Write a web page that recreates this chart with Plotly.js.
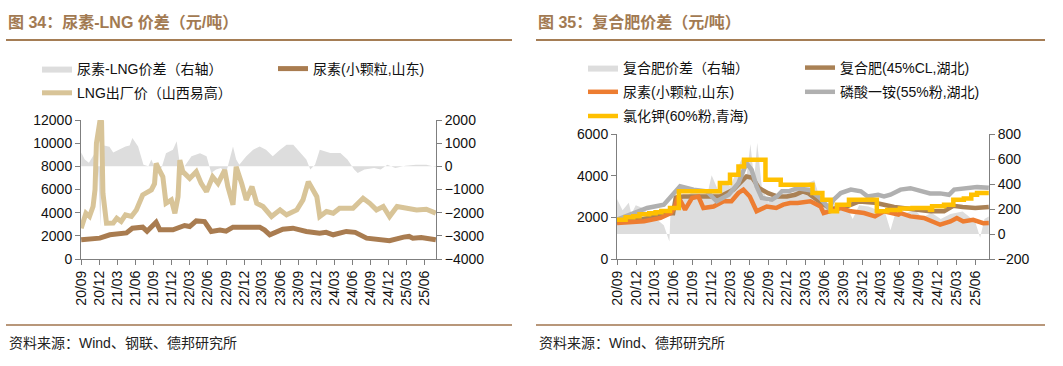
<!DOCTYPE html>
<html><head><meta charset="utf-8">
<script src="https://cdn.plot.ly/plotly-3.0.1.min.js"></script>
<style>
html,body{margin:0;padding:0;background:#fff;}
#c1{position:absolute;left:0;top:0;width:530px;height:366px;}
#c2{position:absolute;left:530px;top:0;width:533px;height:366px;}
</style></head>
<body>
<div id="c1"></div><div id="c2"></div>
<script>
// ---------- Chart 34 data ----------
const ureaDates34 = ['2020-08-29','2020-10-15','2020-12-01','2021-01-21','2021-03-10','2021-04-15','2021-05-15','2021-07-06','2021-07-28','2021-09-12','2021-10-01','2021-12-06','2022-02-03','2022-03-01','2022-04-03','2022-05-15','2022-06-18','2022-08-01','2022-09-01','2022-10-06','2022-12-12','2023-02-18','2023-03-15','2023-04-10','2023-06-15','2023-08-05','2023-10-12','2023-12-18','2024-01-20','2024-02-25','2024-05-01','2024-06-15','2024-08-12','2024-10-18','2024-12-06','2025-02-15','2025-03-15','2025-04-03','2025-05-15','2025-07-28'];
const ureaVals34 = [1660,1750,1800,2090,2170,2250,2660,2750,2400,3180,2520,2520,2890,2800,3290,3230,2380,2500,2400,2750,2750,2750,2500,2090,2575,2660,2380,2230,2300,2090,2380,2300,1800,1720,1575,1890,1950,1800,1850,1660];

const lngDates34 = ['2020-08-29','2020-09-22','2020-10-10','2020-10-28','2020-11-07','2020-11-14','2020-12-01','2020-12-10','2020-12-17','2021-01-04','2021-02-07','2021-02-25','2021-03-19','2021-04-10','2021-05-10','2021-06-04','2021-07-06','2021-08-19','2021-09-04','2021-09-12','2021-09-28','2021-10-16','2021-11-01','2021-11-28','2021-12-16','2022-01-01','2022-01-10','2022-01-25','2022-03-01','2022-04-03','2022-04-28','2022-05-25','2022-06-25','2022-07-22','2022-08-25','2022-09-10','2022-10-06','2022-10-22','2022-11-19','2022-12-12','2023-01-10','2023-02-03','2023-03-07','2023-04-19','2023-06-01','2023-07-04','2023-08-25','2023-09-25','2023-10-22','2023-11-10','2023-12-04','2023-12-19','2024-01-22','2024-02-25','2024-03-28','2024-06-04','2024-07-25','2024-08-28','2024-10-01','2024-11-04','2024-12-06','2025-01-13','2025-03-01','2025-04-22','2025-06-10','2025-07-28'];
const lngVals34 = [2660,3950,3670,4530,6000,9970,11830,11800,5670,3090,3100,3520,3240,3810,3670,4240,5530,5960,6500,8250,7680,7100,4810,5100,3950,5380,8540,7540,6960,7540,6530,5820,7100,6530,7680,6250,4670,7970,6530,5100,6250,4810,4530,3670,4240,3810,4240,5100,6680,6100,5380,3670,4100,3950,4380,4380,5240,4810,4240,4530,3670,4530,4380,4240,4300,3950];

const spreadDates34 = ['2020-08-29','2020-09-16','2020-10-07','2020-11-01','2020-11-13','2020-11-25','2020-12-04','2020-12-13','2020-12-22','2021-01-19','2021-02-07','2021-03-10','2021-04-10','2021-05-01','2021-05-15','2021-06-13','2021-07-10','2021-08-04','2021-08-19','2021-09-12','2021-10-10','2021-11-01','2021-12-06','2021-12-25','2022-01-10','2022-02-03','2022-03-10','2022-04-22','2022-05-25','2022-06-18','2022-07-12','2022-08-06','2022-09-01','2022-10-06','2022-10-22','2022-11-07','2022-12-12','2023-01-16','2023-02-18','2023-03-22','2023-04-25','2023-06-01','2023-07-04','2023-08-07','2023-09-10','2023-10-12','2023-11-01','2023-11-25','2023-12-19','2024-02-10','2024-04-01','2024-05-07','2024-06-10','2024-06-28','2024-08-01','2024-09-19','2024-10-22','2024-11-25','2025-01-04','2025-02-25','2025-04-19','2025-06-10','2025-07-28'];
const spreadVals34 = [600,300,150,500,1000,-500,-2600,200,900,850,600,720,860,900,1220,860,70,0,290,-200,-50,570,720,1080,100,0,430,570,430,-290,-140,-70,-290,860,300,70,430,720,860,720,430,720,930,930,575,290,-140,70,720,575,575,290,-140,-290,-140,-70,-140,70,-70,30,70,70,-30];

// ---------- Chart 35 data ----------
const compDates35 = ['2020-08-29','2021-01-07','2021-03-04','2021-04-13','2021-05-28','2021-06-10','2021-07-16','2021-11-25','2022-01-10','2022-03-16','2022-05-19','2022-06-16','2022-07-19','2022-09-01','2022-10-16','2022-12-01','2023-01-10','2023-02-15','2023-03-16','2023-05-16','2023-07-04','2023-09-07','2023-11-16','2024-02-01','2024-04-01','2024-05-04','2024-07-25','2024-10-25','2025-01-01','2025-02-15','2025-04-01','2025-06-01','2025-08-06'];
const compVals35 = [1800,1920,2050,2200,2200,2950,3000,3000,3000,3330,3960,3900,3400,3160,3000,3000,3080,3245,3150,2690,2400,2480,2760,2700,2550,2500,2400,2290,2290,2550,2500,2450,2500];

const ureaDates35 = ['2020-08-29','2021-01-07','2021-03-28','2021-05-16','2021-06-07','2021-06-22','2021-07-25','2021-08-28','2021-09-28','2021-10-22','2021-12-10','2022-01-28','2022-03-07','2022-04-10','2022-05-04','2022-06-04','2022-07-07','2022-08-25','2022-10-10','2022-11-13','2022-12-16','2023-01-22','2023-03-25','2023-05-13','2023-05-28','2023-07-01','2023-08-19','2023-10-07','2023-12-10','2024-02-01','2024-03-16','2024-05-25','2024-06-04','2024-07-22','2024-09-25','2024-12-13','2025-02-01','2025-03-04','2025-04-04','2025-05-22','2025-07-10','2025-08-06'];
const ureaVals35 = [1730,1810,1970,2200,2520,3000,2370,2930,3000,2450,2520,2770,2770,3170,3330,3000,2290,2520,2450,2610,2690,2690,2770,2526,2207,2290,2446,2287,2207,2045,2287,2130,2200,2045,1966,1646,1800,1966,1800,1880,1720,1726];

const mapDates35 = ['2020-08-29','2021-01-22','2021-04-13','2021-05-22','2021-07-01','2021-09-04','2021-11-07','2021-12-25','2022-02-22','2022-04-10','2022-05-19','2022-06-13','2022-07-07','2022-08-01','2022-09-19','2022-10-13','2022-11-07','2022-12-10','2023-01-22','2023-03-25','2023-05-13','2023-06-22','2023-07-16','2023-08-19','2023-10-07','2023-11-25','2023-12-28','2024-02-16','2024-03-16','2024-04-16','2024-06-04','2024-07-22','2024-09-10','2024-10-25','2024-12-13','2025-01-25','2025-02-19','2025-05-07','2025-06-10','2025-08-06'];
const mapVals35 = [1890,2450,2610,3010,3490,3330,3250,2770,3090,3650,4600,4280,3480,2930,2850,3000,3250,3250,3400,3300,2900,2450,2850,3165,3330,3250,3000,3080,3000,3086,3330,3400,3250,3150,3150,3084,3330,3400,3450,3420];

const kclDates35 = ['2020-08-29','2020-10-10','2020-11-16','2020-12-16','2021-02-01','2021-03-04','2021-04-01','2021-05-13','2021-06-25','2022-01-10','2022-02-28','2022-04-10','2022-05-07','2022-08-19','2022-11-01','2023-04-04','2023-05-22','2023-07-01','2023-08-01','2023-09-28','2024-02-10','2024-04-01','2024-06-01','2024-08-01','2024-10-25','2024-11-04','2025-01-01','2025-02-15','2025-04-07','2025-05-13','2025-06-10','2025-08-06'];
const kclVals35 = [1890,2010,2050,2150,2200,2250,2300,2450,3250,3650,4040,4440,4760,3800,3560,3165,2840,2290,2610,2840,2290,2350,2420,2450,2360,2530,2600,2840,2900,3080,3165,3165];

const spreadDates35 = ['2020-08-29','2020-09-25','2020-10-25','2020-11-07','2020-11-28','2020-12-28','2021-01-28','2021-03-01','2021-04-13','2021-05-10','2021-05-16','2021-06-10','2021-07-01','2021-08-01','2021-09-01','2021-10-01','2021-11-16','2021-12-01','2022-01-01','2022-02-01','2022-03-01','2022-04-01','2022-04-25','2022-05-16','2022-06-07','2022-06-25','2022-07-10','2022-08-01','2022-09-01','2022-10-01','2022-11-01','2022-12-01','2023-01-01','2023-02-01','2023-03-01','2023-04-13','2023-05-16','2023-06-16','2023-08-01','2023-09-16','2023-10-16','2023-11-16','2024-01-01','2024-02-16','2024-03-16','2024-04-16','2024-05-16','2024-07-01','2024-08-16','2024-09-16','2024-11-01','2024-12-16','2025-02-01','2025-04-01','2025-06-01','2025-06-25','2025-07-16','2025-08-06'];
const spreadVals35 = [280,190,250,160,230,210,160,130,70,-60,200,280,320,300,340,350,360,470,350,420,380,500,600,420,720,430,730,380,250,330,300,320,330,380,400,430,250,250,240,220,120,230,220,190,200,30,200,170,190,130,170,120,160,180,100,-30,120,140];

// ---------- helpers ----------
const FONT = 'Liberation Sans, Arial, Noto Sans CJK SC, sans-serif';
const BROWN = '#a57d55';
function mk(W,H,m){
  const pw=W-m.l-m.r, ph=H-m.t-m.b;
  return {X:px=>(px-m.l)/pw, Y:py=>(H-m.b-py)/ph};
}
function baseAxisX(range){
  return {type:'date', range:range, tick0:'2020-09-01', dtick:'M3', tickformat:'%y/%m',
    tickangle:-90, ticks:'outside', ticklen:5, tickcolor:'#7f7f7f', showline:true, linecolor:'#7f7f7f',
    linewidth:1, showgrid:false, zeroline:false, tickfont:{size:14,color:'#111',family:FONT}};
}
function axisY(o){
  return Object.assign({ticks:'outside', ticklen:5, tickcolor:'#7f7f7f', showline:true, linecolor:'#7f7f7f',
    linewidth:1, showgrid:false, zeroline:false, tickformat:'d', tickfont:{size:14,color:'#111',family:FONT}}, o);
}
function common(W,H,m,title,source){
  const t=mk(W,H,m);
  return {
    width:W, height:H, margin:m, paper_bgcolor:'#fff', plot_bgcolor:'#fff',
    font:{family:FONT,size:14,color:'#111'},
    title:{text:'<b>'+title+'</b>', xref:'container', yref:'container', x:8/W, y:1-22/H,
      xanchor:'left', yanchor:'middle', font:{size:16,color:'#a27a52',family:FONT}},
    shapes:[
      {type:'line', xref:'paper', yref:'paper', x0:t.X(6), x1:t.X(W-18), y0:t.Y(40), y1:t.Y(40), line:{color:BROWN,width:2}},
      {type:'line', xref:'paper', yref:'paper', x0:t.X(6), x1:t.X(W-18), y0:t.Y(325), y1:t.Y(325), line:{color:'#b8977a',width:2}}
    ],
    annotations:[{text:source, xref:'paper', yref:'paper', x:t.X(7), y:t.Y(343), xanchor:'left', yanchor:'middle',
      showarrow:false, font:{size:14,color:'#222',family:FONT}}],
    showlegend:true
  };
}
function lg(x,y,W,H){
  return {xref:'container',yref:'container',x:x/W,y:1-y/H,xanchor:'left',yanchor:'top',
    bgcolor:'rgba(0,0,0,0)',font:{size:14,family:FONT,color:'#111'},tracegroupgap:3};
}

// ---------- Chart 34 ----------
(function(){
  const W=530,H=366,m={l:81,r:94,t:120,b:107,pad:0,autoexpand:false};
  const L=common(W,H,m,'图 34：尿素-LNG 价差（元/吨）','资料来源：Wind、钢联、德邦研究所');
  L.xaxis=baseAxisX(['2020-08-28','2025-07-29']);
  L.yaxis=axisY({side:'right', range:[-4000,2000], dtick:1000});
  L.yaxis2=axisY({side:'left', overlaying:'y', range:[0,12000], dtick:2000});
  L.legend=lg(37,53,W,H);
  L.legend2=lg(273,53,W,H);
  const data=[
    {x:spreadDates34,y:spreadVals34,name:'尿素-LNG价差（右轴）',type:'scatter',mode:'lines',fill:'tozeroy',
     fillcolor:'#dddddd',line:{width:0,color:'#dddddd'},yaxis:'y',legend:'legend',legendgroup:'a'},
    {x:ureaDates34,y:ureaVals34,name:'尿素(小颗粒,山东)',type:'scatter',mode:'lines',
     line:{width:5,color:'#a97c50'},yaxis:'y2',legend:'legend2',legendgroup:'c'},
    {x:lngDates34,y:lngVals34,name:'LNG出厂价（山西易高）',type:'scatter',mode:'lines',
     line:{width:5,color:'#d8c498'},yaxis:'y2',legend:'legend',legendgroup:'b'}
  ];
  Plotly.newPlot('c1',data,L,{staticPlot:true});
})();

// ---------- Chart 35 ----------
(function(){
  const W=533,H=366,m={l:87,r:74,t:134,b:107,pad:0,autoexpand:false};
  const L=common(W,H,m,'图 35：复合肥价差（元/吨）','资料来源：Wind、德邦研究所');
  L.xaxis=baseAxisX(['2020-08-29','2025-08-07']);
  L.yaxis=axisY({side:'right', range:[-200,800], dtick:200});
  L.yaxis2=axisY({side:'left', overlaying:'y', range:[0,6000], dtick:2000});
  L.legend=lg(53,52,W,H);
  L.legend2=lg(270,52,W,H);
  const data=[
    {x:spreadDates35,y:spreadVals35,name:'复合肥价差（右轴）',type:'scatter',mode:'lines',fill:'tozeroy',
     fillcolor:'#dddddd',line:{width:0,color:'#dddddd'},yaxis:'y',legend:'legend',legendgroup:'a'},
    {x:compDates35,y:compVals35,name:'复合肥(45%CL,湖北)',type:'scatter',mode:'lines',
     line:{width:4.5,color:'#a98155'},yaxis:'y2',legend:'legend2',legendgroup:'d'},
    {x:ureaDates35,y:ureaVals35,name:'尿素(小颗粒,山东)',type:'scatter',mode:'lines',
     line:{width:4.5,color:'#ed7d31'},yaxis:'y2',legend:'legend',legendgroup:'b'},
    {x:mapDates35,y:mapVals35,name:'磷酸一铵(55%粉,湖北)',type:'scatter',mode:'lines',
     line:{width:4.5,color:'#b0b0b0'},yaxis:'y2',legend:'legend2',legendgroup:'e'},
    {x:kclDates35,y:kclVals35,name:'氯化钾(60%粉,青海)',type:'scatter',mode:'lines',
     line:{width:4.5,color:'#ffc000',shape:'hv'},yaxis:'y2',legend:'legend',legendgroup:'c'}
  ];
  Plotly.newPlot('c2',data,L,{staticPlot:true});
})();
</script>
</body></html>
